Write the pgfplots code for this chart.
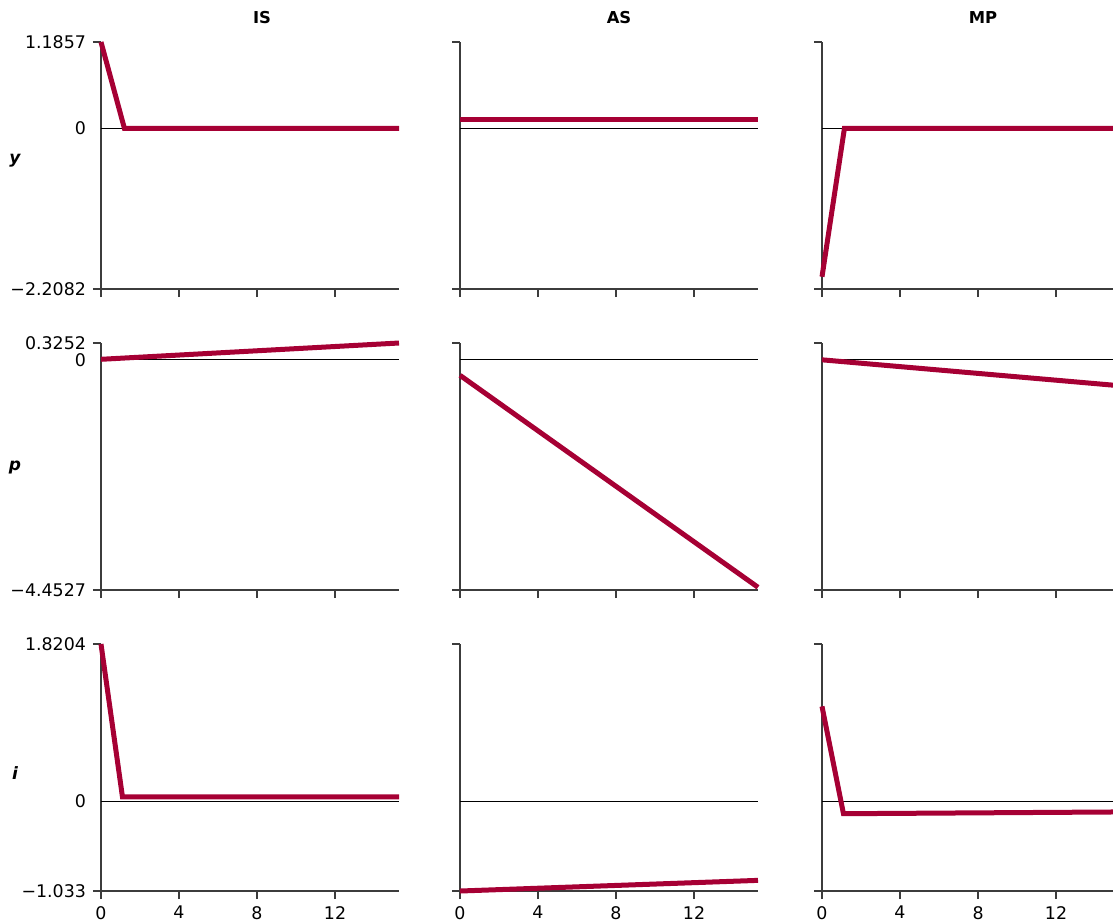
\documentclass[border=0pt]{standalone}
\usepackage{fontspec}
\setmainfont{DejaVu Sans}
\usepackage{pgfplots}
\pgfplotsset{compat=1.18}
\definecolor{irfred}{RGB}{166,0,52}
\definecolor{axgray}{RGB}{60,60,60}
\pgfplotsset{
  irf/.style={
    scale only axis, width=149pt, height=123.5pt,
    xmin=0, xmax=15.28,
    axis lines=left,
    axis line style={axgray, line width=0.7pt, -},
    tick align=outside, major tick length=4pt,
    tick style={axgray, line width=0.7pt},
    xtick={0,4,8,12}, xticklabels={},
    tick label style={font=\fontsize{8.7}{10}\selectfont},
    clip=false,
    anchor=north west,
  },
  col3/.style={width=145.5pt, xmax=14.92},
  bottom/.style={xticklabels={0,4,8,12}},
  zeroline/.style={black, line width=0.6pt},
  resp/.style={irfred, line width=2.5pt},
}
\begin{document}
\begin{tikzpicture}
\useasboundingbox (0,0) rectangle (556.5pt,-461.5pt);
% titles
\node[anchor=base, font=\fontsize{8.2}{9}\selectfont\bfseries] at (131pt,-11.9pt) {IS};
\node[anchor=base, font=\fontsize{8.2}{9}\selectfont\bfseries] at (309.5pt,-11.9pt) {AS};
\node[anchor=base, font=\fontsize{8.2}{9}\selectfont\bfseries] at (491.5pt,-11.9pt) {MP};
% row labels
\node[anchor=base, font=\fontsize{8.5}{10}\selectfont\bfseries\itshape] at (7.5pt,-81.5pt) {y};
\node[anchor=base, font=\fontsize{8.5}{10}\selectfont\bfseries\itshape] at (7.5pt,-235pt) {p};
\node[anchor=base, font=\fontsize{8.5}{10}\selectfont\bfseries\itshape] at (7.5pt,-389.5pt) {i};

% ---------- Row 1: y ----------
\begin{axis}[irf, at={(50.5pt,-21pt)}, ymin=-2.2082, ymax=1.1857,
  ytick={-2.2082,1.1857}, yticklabels={−2.2082,1.1857},
  extra y ticks={0}, extra y tick labels={0},
  extra y tick style={major tick length=0pt, yticklabel style={xshift=-4pt}}]
\addplot[zeroline] coordinates {(0,0) (15.28,0)};
\addplot[resp] coordinates {(0,1.1857) (1.2,0) (15.28,0)};
\end{axis}
\begin{axis}[irf, at={(230pt,-21pt)}, ymin=-2.2082, ymax=1.1857,
  ytick={-2.2082,1.1857}, yticklabels={}]
\addplot[zeroline] coordinates {(0,0) (15.28,0)};
\addplot[resp] coordinates {(0,0.125) (15.28,0.125)};
\end{axis}
\begin{axis}[irf, col3, at={(411pt,-21pt)}, ymin=-2.2082, ymax=1.1857,
  ytick={-2.2082,1.1857}, yticklabels={}]
\addplot[zeroline] coordinates {(0,0) (14.92,0)};
\addplot[resp] coordinates {(0,-2.04) (1.15,0) (14.92,0)};
\end{axis}

% ---------- Row 2: p ----------
\begin{axis}[irf, at={(50.5pt,-171.5pt)}, ymin=-4.4527, ymax=0.3252,
  ytick={-4.4527,0.3252}, yticklabels={−4.4527,0.3252},
  extra y ticks={0}, extra y tick labels={0},
  extra y tick style={major tick length=0pt, yticklabel style={xshift=-4pt}}]
\addplot[zeroline] coordinates {(0,0) (15.28,0)};
\addplot[resp] coordinates {(0,0.01) (15.28,0.3252)};
\end{axis}
\begin{axis}[irf, at={(230pt,-171.5pt)}, ymin=-4.4527, ymax=0.3252,
  ytick={-4.4527,0.3252}, yticklabels={}]
\addplot[zeroline] coordinates {(0,0) (15.28,0)};
\addplot[resp] coordinates {(0,-0.30) (15.28,-4.40)};
\end{axis}
\begin{axis}[irf, col3, at={(411pt,-171.5pt)}, ymin=-4.4527, ymax=0.3252,
  ytick={-4.4527,0.3252}, yticklabels={}]
\addplot[zeroline] coordinates {(0,0) (14.92,0)};
\addplot[resp] coordinates {(0,0.0) (14.92,-0.49)};
\end{axis}

% ---------- Row 3: i ----------
\begin{axis}[irf, bottom, at={(50.5pt,-322pt)}, ymin=-1.033, ymax=1.8204,
  ytick={-1.033,1.8204}, yticklabels={−1.033,1.8204},
  extra y ticks={0}, extra y tick labels={0},
  extra y tick style={major tick length=0pt, yticklabel style={xshift=-4pt}}]
\addplot[zeroline] coordinates {(0,0) (15.28,0)};
\addplot[resp] coordinates {(0,1.8204) (1.1,0.055) (15.28,0.055)};
\end{axis}
\begin{axis}[irf, bottom, at={(230pt,-322pt)}, ymin=-1.033, ymax=1.8204,
  ytick={-1.033,1.8204}, yticklabels={}]
\addplot[zeroline] coordinates {(0,0) (15.28,0)};
\addplot[resp] coordinates {(0,-1.033) (15.28,-0.91)};
\end{axis}
\begin{axis}[irf, col3, bottom, at={(411pt,-322pt)}, ymin=-1.033, ymax=1.8204,
  ytick={-1.033,1.8204}, yticklabels={}]
\addplot[zeroline] coordinates {(0,0) (14.92,0)};
\addplot[resp] coordinates {(0,1.10) (1.1,-0.14) (14.92,-0.12)};
\end{axis}
\end{tikzpicture}
\end{document}
